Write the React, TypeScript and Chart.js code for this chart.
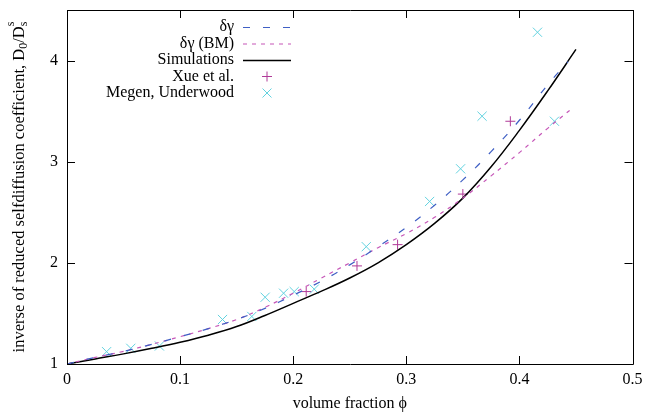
import React, { useEffect, useRef } from "react";
import { Chart, registerables } from "chart.js";

Chart.register(...registerables);

// ---- data ----
const curveX = [0, 0.025, 0.05, 0.075, 0.1, 0.125, 0.15, 0.175, 0.2, 0.225, 0.25, 0.275, 0.3, 0.325, 0.35, 0.375, 0.4, 0.425, 0.45];
const simulations = [1.0, 1.05, 1.1, 1.155, 1.215, 1.285, 1.37, 1.48, 1.6, 1.72, 1.85, 2.0, 2.18, 2.39, 2.64, 2.95, 3.31, 3.7, 4.11];

const deltaGammaX = [0, 0.025, 0.05, 0.075, 0.1, 0.125, 0.15, 0.175, 0.2, 0.225, 0.25, 0.275, 0.3, 0.325, 0.35, 0.375, 0.4, 0.425, 0.443];
const deltaGamma = [1.0, 1.065, 1.125, 1.195, 1.27, 1.35, 1.44, 1.55, 1.68, 1.82, 1.98, 2.16, 2.35, 2.57, 2.82, 3.1, 3.41, 3.76, 3.99];

const deltaGammaBMX = [0, 0.025, 0.05, 0.075, 0.1, 0.125, 0.15, 0.175, 0.2, 0.225, 0.25, 0.275, 0.3, 0.325, 0.35, 0.375, 0.4, 0.425, 0.448];
const deltaGammaBM = [1.0, 1.065, 1.125, 1.195, 1.27, 1.35, 1.44, 1.56, 1.7, 1.85, 2.0, 2.15, 2.29, 2.45, 2.64, 2.86, 3.09, 3.33, 3.54];

const xueX = [0.2115, 0.2564, 0.2923, 0.35, 0.392];
const xueY = [1.716, 1.97, 2.18, 2.68, 3.4];

const megenX = [0.035, 0.0564, 0.0817, 0.1375, 0.1634, 0.1752, 0.1915, 0.2009, 0.2186, 0.2646, 0.3206, 0.348, 0.367, 0.416, 0.431];
const megenY = [1.122, 1.155, 1.178, 1.44, 1.47, 1.66, 1.7, 1.716, 1.74, 2.16, 2.607, 2.93, 3.45, 4.28, 3.4];

const xTicks = [0, 0.1, 0.2, 0.3, 0.4, 0.5];
const yTicks = [1, 2, 3, 4];

const legendLabels = ["δγ", "δγ (BM)", "Simulations", "Xue et al.", "Megen, Underwood"];

const FONT = "'Liberation Serif', 'Times New Roman', serif";
const BLUE = "#3f5fc4";
const PINK = "#c657b8";
const PLUS = "#b03a98";
const CYAN = "#62d2df";

const zip = (xs: number[], ys: number[]) => xs.map((x, i) => ({ x, y: ys[i] }));

const framePlugin = {
  id: "frameTicks",
  afterDraw(chart: any) {
    const { ctx, chartArea } = chart;
    const { left, right, top, bottom } = chartArea;
    const xs = chart.scales.x;
    const ys = chart.scales.y;
    ctx.save();
    ctx.strokeStyle = "#000";
    ctx.lineWidth = 1;
    ctx.beginPath();
    ctx.rect(Math.round(left) + 0.5, Math.round(top) + 0.5, Math.round(right - left), Math.round(bottom - top));
    ctx.stroke();
    const tl = 8;
    ctx.beginPath();
    xTicks.forEach((v) => {
      const px = Math.round(xs.getPixelForValue(v)) + 0.5;
      ctx.moveTo(px, bottom);
      ctx.lineTo(px, bottom - tl);
      ctx.moveTo(px, top);
      ctx.lineTo(px, top + tl);
    });
    yTicks.forEach((v) => {
      const py = Math.round(ys.getPixelForValue(v)) + 0.5;
      ctx.moveTo(left, py);
      ctx.lineTo(left + tl, py);
      ctx.moveTo(right, py);
      ctx.lineTo(right - tl, py);
    });
    ctx.stroke();

    // legend (gnuplot style: text right-aligned, sample to the right)
    ctx.font = `16px ${FONT}`;
    ctx.textAlign = "right";
    ctx.textBaseline = "middle";
    ctx.fillStyle = "#000";
    const textRight = 234;
    const sx0 = 243;
    const sx1 = 291;
    const rowY = [27, 43.5, 60, 76.5, 93];
    legendLabels.forEach((label, i) => {
      const y = rowY[i];
      ctx.fillText(label, textRight, y);
      const ds = chart.data.datasets[i];
      ctx.save();
      if (i < 3) {
        ctx.strokeStyle = ds.borderColor;
        ctx.lineWidth = ds.borderWidth;
        ctx.setLineDash(ds.borderDash || []);
        ctx.beginPath();
        ctx.moveTo(sx0, y + 0.5);
        ctx.lineTo(sx1, y + 0.5);
        ctx.stroke();
      } else {
        const cx = (sx0 + sx1) / 2;
        const r = 5;
        ctx.strokeStyle = ds.borderColor;
        ctx.lineWidth = 1;
        ctx.beginPath();
        if (i === 3) {
          ctx.moveTo(cx - r, y);
          ctx.lineTo(cx + r, y);
          ctx.moveTo(cx, y - r);
          ctx.lineTo(cx, y + r);
        } else {
          const d = 4.5;
          ctx.moveTo(cx - d, y - d);
          ctx.lineTo(cx + d, y + d);
          ctx.moveTo(cx - d, y + d);
          ctx.lineTo(cx + d, y - d);
        }
        ctx.stroke();
      }
      ctx.restore();
    });

    // y-axis title with sub/superscripts
    const parts: { t: string; kind: "n" | "sub" | "subsup" }[] = [
      { t: "inverse of reduced selfdiffusion coefficient, D", kind: "n" },
      { t: "0", kind: "sub" },
      { t: "/D", kind: "n" },
      { t: "s", kind: "subsup" },
    ];
    const big = `16.5px ${FONT}`;
    const small = `12px ${FONT}`;
    let total = 0;
    const widths = parts.map((p) => {
      ctx.font = p.kind === "n" ? big : small;
      const w = ctx.measureText(p.t).width;
      total += w;
      return w;
    });
    const cx = 18;
    const cy = (top + bottom) / 2;
    ctx.translate(cx, cy);
    ctx.rotate(-Math.PI / 2);
    ctx.textAlign = "left";
    ctx.textBaseline = "alphabetic";
    let x = -total / 2;
    const base = 6;
    parts.forEach((p, i) => {
      if (p.kind === "n") {
        ctx.font = big;
        ctx.fillText(p.t, x, base);
      } else if (p.kind === "sub") {
        ctx.font = small;
        ctx.fillText(p.t, x, base + 3);
      } else {
        ctx.font = small;
        ctx.fillText(p.t, x, base + 3);
        ctx.fillText(p.t, x, base - 10);
      }
      x += widths[i];
    });
    ctx.restore();
  },
};

export default function App() {
  const ref = useRef<HTMLCanvasElement | null>(null);
  useEffect(() => {
    if (!ref.current) return;
    const chart = new Chart(ref.current, {
      type: "scatter",
      data: {
        datasets: [
          {
            label: legendLabels[0],
            data: zip(deltaGammaX, deltaGamma),
            showLine: true,
            borderColor: BLUE,
            borderWidth: 1.2,
            borderDash: [7, 13],
            pointRadius: 0,
            tension: 0.4,
          },
          {
            label: legendLabels[1],
            data: zip(deltaGammaBMX, deltaGammaBM),
            showLine: true,
            borderColor: PINK,
            borderWidth: 1.2,
            borderDash: [4, 5],
            pointRadius: 0,
            tension: 0.4,
          },
          {
            label: legendLabels[2],
            data: zip(curveX, simulations),
            showLine: true,
            borderColor: "#000",
            borderWidth: 1.5,
            pointRadius: 0,
            tension: 0.4,
          },
          {
            label: legendLabels[3],
            data: zip(xueX, xueY),
            showLine: false,
            borderColor: PLUS,
            backgroundColor: PLUS,
            pointStyle: "cross",
            pointRadius: 5,
            pointBorderWidth: 1,
          },
          {
            label: legendLabels[4],
            data: zip(megenX, megenY),
            showLine: false,
            borderColor: CYAN,
            backgroundColor: CYAN,
            pointStyle: "crossRot",
            pointRadius: 6.5,
            pointBorderWidth: 1,
          },
        ],
      },
      options: {
        responsive: false,
        animation: false,
        layout: { padding: { left: 0, right: 12.5, top: 10, bottom: 0 } },
        plugins: { legend: { display: false }, tooltip: { enabled: false } },
        scales: {
          x: {
            type: "linear",
            min: 0,
            max: 0.5,
            grid: { display: false, drawTicks: false },
            border: { display: false },
            afterBuildTicks: (s: any) => {
              s.ticks = xTicks.map((v) => ({ value: v }));
            },
            afterFit: (s: any) => {
              s.height = 49;
              s.paddingLeft = 0;
              s.paddingRight = 0;
            },
            ticks: {
              color: "#000",
              padding: 6,
              font: { family: FONT, size: 16 },
              callback: (v: any) => String(Math.round(Number(v) * 10) / 10),
            },
            title: {
              display: true,
              text: "volume fraction ϕ",
              color: "#000",
              font: { family: FONT, size: 16 },
              padding: { top: 0, bottom: 0 },
            },
          },
          y: {
            type: "linear",
            min: 1,
            max: 4.5,
            grid: { display: false, drawTicks: false },
            border: { display: false },
            afterBuildTicks: (s: any) => {
              s.ticks = yTicks.map((v) => ({ value: v }));
            },
            afterFit: (s: any) => {
              s.width = 67;
              s.paddingTop = 0;
              s.paddingBottom = 0;
            },
            ticks: {
              color: "#000",
              padding: 9,
              font: { family: FONT, size: 16 },
            },
          },
        },
      },
      plugins: [framePlugin],
    } as any);
    return () => chart.destroy();
  }, []);
  return (
    <div style={{ position: "fixed", left: 0, top: 0, width: 645, height: 413, background: "#fff" }}>
      <canvas ref={ref} width={645} height={413} style={{ display: "block", width: 645, height: 413 }} />
    </div>
  );
}
